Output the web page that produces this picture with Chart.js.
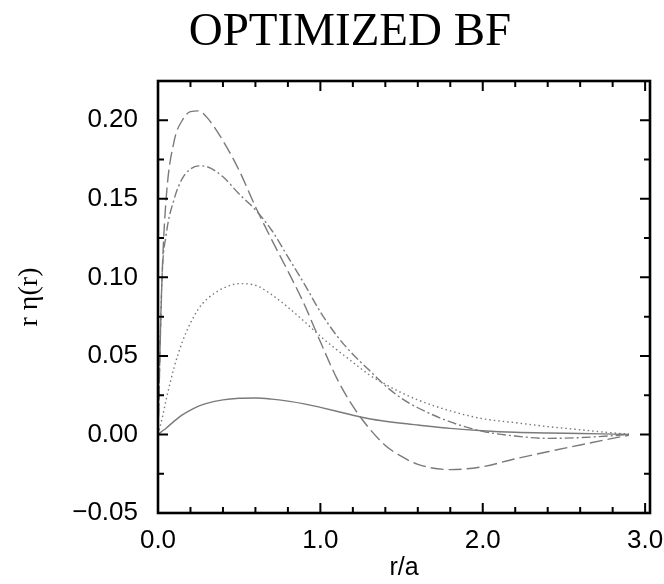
<!DOCTYPE html>
<html>
<head>
<meta charset="utf-8">
<script src="https://cdn.jsdelivr.net/npm/chart.js@4.4.1/dist/chart.umd.min.js"></script>
<style>
  html, body { margin: 0; padding: 0; background: #fff; }
  #wrap { width: 664px; height: 584px; }
</style>
</head>
<body>
<div id="wrap"><canvas id="chart" width="664" height="584"></canvas></div>
<script>
// ── Data ─────────────────────────────────────────────────────────
const rGrid = [0, 0.025, 0.05, 0.1, 0.15, 0.2, 0.25, 0.3, 0.4, 0.5, 0.6, 0.7, 0.8, 0.9,
               1.0, 1.1, 1.2, 1.3, 1.4, 1.5, 1.6, 1.8, 2.0, 2.2, 2.4, 2.6, 2.8, 2.9];

// long dash
const etaLongDash = [0, 0.100, 0.150, 0.187, 0.200, 0.2055, 0.206, 0.202, 0.187, 0.168,
                     0.145, 0.124, 0.104, 0.083, 0.059, 0.036, 0.018, 0.004, -0.007, -0.014,
                     -0.019, -0.0224, -0.0205, -0.0155, -0.011, -0.0067, -0.0025, -0.0005];
// dash-dot
const etaDashDot = [0, 0.100, 0.127, 0.150, 0.163, 0.169, 0.171, 0.1705, 0.164, 0.153,
                    0.143, 0.130, 0.113, 0.096, 0.078, 0.063, 0.051, 0.041, 0.031, 0.023,
                    0.017, 0.008, 0.002, -0.001, -0.0025, -0.002, -0.0008, 0];
// dotted
const etaDotted = [0, 0.010, 0.022, 0.043, 0.059, 0.071, 0.080, 0.086, 0.093, 0.096,
                   0.095, 0.089, 0.081, 0.072, 0.0625, 0.054, 0.046, 0.038, 0.032, 0.0265,
                   0.022, 0.015, 0.010, 0.0075, 0.005, 0.003, 0.001, 0.0003];
// solid
const etaSolid = [0, 0.002, 0.004, 0.0085, 0.0125, 0.0155, 0.018, 0.0198, 0.022, 0.023,
                  0.0232, 0.0225, 0.0212, 0.0195, 0.0172, 0.0148, 0.0122, 0.0100, 0.0084, 0.0071,
                  0.0060, 0.0039, 0.0024, 0.0014, 0.0009, 0.0006, 0.0002, 0];

const xTicks = [0, 1, 2, 3];
const xMinorTicks = [0.2, 0.4, 0.6, 0.8, 1.2, 1.4, 1.6, 1.8, 2.2, 2.4, 2.6, 2.8];
const yTicks = [-0.05, 0, 0.05, 0.10, 0.15, 0.20];
const yMinorTicks = [-0.025, 0.025, 0.075, 0.125, 0.175];

const titleText = "OPTIMIZED BF";
const xLabel = "r/a";
const yLabel = "r η(r)";

// ── Helpers ──────────────────────────────────────────────────────
const sansFont  = "'Liberation Sans', Arial, sans-serif";
const serifFont = "'Liberation Serif', 'Times New Roman', serif";
const lineGray  = "#7a7a7a";

function toPoints(values) {
  return rGrid.map((r, i) => ({ x: r, y: values[i] }));
}

function curve(label, values, dash) {
  return {
    label,
    data: toPoints(values),
    borderColor: lineGray,
    borderWidth: 1.4,
    borderDash: dash,
    pointRadius: 0,
    fill: false,
    cubicInterpolationMode: "monotone",
  };
}

// frame + inward ticks on all four sides, title text
const framePlugin = {
  id: "frame",
  afterDraw(chart) {
    const { ctx, chartArea: a, scales } = chart;
    const xs = scales.x, ys = scales.y;
    ctx.save();
    ctx.strokeStyle = "#000";
    ctx.lineWidth = 2;
    ctx.beginPath();
    const tickX = (vals, len) => {
      vals.forEach(v => {
        const px = xs.getPixelForValue(v);
        ctx.moveTo(px, a.bottom); ctx.lineTo(px, a.bottom - len);
        ctx.moveTo(px, a.top);    ctx.lineTo(px, a.top + len);
      });
    };
    const tickY = (vals, len) => {
      vals.forEach(v => {
        const py = ys.getPixelForValue(v);
        ctx.moveTo(a.left, py);  ctx.lineTo(a.left + len, py);
        ctx.moveTo(a.right, py); ctx.lineTo(a.right - len, py);
      });
    };
    tickX(xTicks, 10);
    tickX(xMinorTicks, 6);
    tickY(yTicks, 10);
    tickY(yMinorTicks, 6);
    ctx.stroke();
    ctx.lineWidth = 2.6;
    ctx.strokeRect(a.left, a.top, a.right - a.left, a.bottom - a.top);

    ctx.fillStyle = "#000";
    ctx.font = "47px " + serifFont;
    ctx.textAlign = "center";
    ctx.textBaseline = "alphabetic";
    ctx.fillText(titleText, 350, 45);
    ctx.restore();
  },
};

// ── Chart ────────────────────────────────────────────────────────
new Chart(document.getElementById("chart"), {
  type: "line",
  data: {
    datasets: [
      curve("long dash", etaLongDash, [13, 5]),
      curve("dash dot", etaDashDot, [9, 3, 2, 3]),
      curve("dotted", etaDotted, [1.5, 3]),
      curve("solid", etaSolid, []),
    ],
  },
  options: {
    responsive: false,
    animation: false,
    layout: { padding: { top: 81, right: 14, left: 0, bottom: 0 } },
    plugins: {
      legend: { display: false },
      tooltip: { enabled: false },
      title: { display: false },
    },
    scales: {
      x: {
        type: "linear",
        min: 0,
        max: 3.03,
        afterFit: (s) => { s.height = 71; s.paddingLeft = 0; s.paddingRight = 0; },
        afterBuildTicks: (s) => { s.ticks = xTicks.map(v => ({ value: v })); },
        grid: { display: false, drawTicks: false },
        border: { display: false },
        ticks: {
          padding: 12,
          color: "#000",
          font: { family: sansFont, size: 26 },
          maxRotation: 0,
          callback: (v) => Number(v).toFixed(1),
        },
        title: {
          display: true,
          text: xLabel,
          color: "#000",
          font: { family: sansFont, size: 25 },
          padding: { top: 0, bottom: 1 },
        },
      },
      y: {
        type: "linear",
        min: -0.05,
        max: 0.225,
        afterFit: (s) => { s.width = 158; s.paddingTop = 0; s.paddingBottom = 0; },
        afterBuildTicks: (s) => { s.ticks = yTicks.map(v => ({ value: v })); },
        grid: { display: false, drawTicks: false },
        border: { display: false },
        ticks: {
          padding: 20,
          color: "#000",
          font: { family: sansFont, size: 26 },
          callback: (v) => Number(v).toFixed(2).replace("-", "\u2212"),
        },
        title: {
          display: true,
          text: yLabel,
          color: "#000",
          font: { family: serifFont, size: 28 },
          padding: { top: 13, bottom: 0 },
        },
      },
    },
  },
  plugins: [framePlugin],
});
</script>
</body>
</html>
